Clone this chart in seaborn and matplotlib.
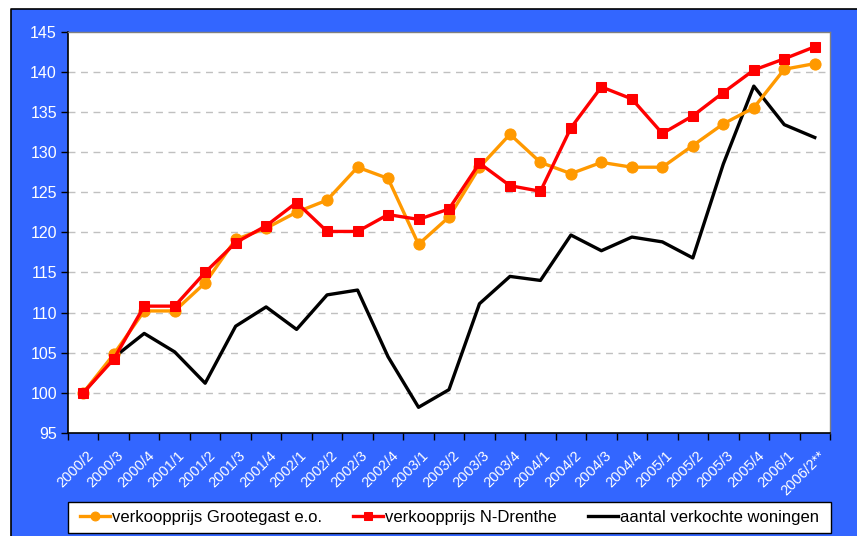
import matplotlib
matplotlib.use("Agg")
import matplotlib.pyplot as plt
import matplotlib.patches as mpatches
import matplotlib.lines as mlines
import matplotlib.transforms as mtransforms
import seaborn as sns
import pandas as pd
import numpy as np

categories = ["2000/2", "2000/3", "2000/4", "2001/1", "2001/2", "2001/3", "2001/4",
              "2002/1", "2002/2", "2002/3", "2002/4", "2003/1", "2003/2", "2003/3",
              "2003/4", "2004/1", "2004/2", "2004/3", "2004/4", "2005/1", "2005/2",
              "2005/3", "2005/4", "2006/1", "2006/2**"]
grootegast = [100, 104.8, 110.2, 110.2, 113.7, 119.1, 120.5, 122.5, 124.0, 128.1, 126.7,
              118.5, 121.9, 128.1, 132.2, 128.7, 127.3, 128.7, 128.1, 128.1, 130.8,
              133.5, 135.5, 140.3, 141.0]
drenthe = [100, 104.2, 110.8, 110.8, 115.0, 118.7, 120.8, 123.7, 120.1, 120.1, 122.2,
           121.6, 122.9, 128.6, 125.8, 125.1, 133.0, 138.1, 136.6, 132.3, 134.5,
           137.4, 140.2, 141.6, 143.1]
verkocht = [100, 104.4, 107.4, 105.1, 101.2, 108.3, 110.7, 107.9, 112.2, 112.8, 104.5,
            98.2, 100.4, 111.1, 114.5, 114.0, 119.65, 117.7, 119.4, 118.8, 116.8,
            128.5, 138.2, 133.4, 131.8]
series_names = ["verkoopprijs Grootegast e.o.", "verkoopprijs N-Drenthe",
                "aantal verkochte woningen"]
y_ticks = [95, 100, 105, 110, 115, 120, 125, 130, 135, 140, 145]

BLUE = "#3366FF"
plt.rcParams['font.family'] = ['Liberation Sans', 'DejaVu Sans']

fig = plt.figure(figsize=(8.57, 5.36), dpi=100)
fig.patch.set_facecolor("white")
W, H = 857, 536
bg = mpatches.Rectangle((11 / W, 0), 1 - 11 / W, 1 - 9 / H, transform=fig.transFigure,
                        facecolor=BLUE, edgecolor="none", zorder=-10)
fig.patches.append(bg)
fig.lines.append(mlines.Line2D([11 / W, 11 / W, 1], [0, 1 - 9 / H, 1 - 9 / H],
                               transform=fig.transFigure, color="black",
                               linewidth=1.2, zorder=-9))
# legend box
fig.patches.append(mpatches.Rectangle((68 / W, 1 - 533 / H), 763 / W, 31 / H,
                                      transform=fig.transFigure, facecolor="white",
                                      edgecolor="black", linewidth=1, zorder=-8))

ax = fig.add_axes([68 / W, 1 - 433 / H, 762 / W, (433 - 31.5) / H])
ax.set_zorder(1)
ax.set_facecolor("white")

x = np.arange(len(categories))
df = pd.DataFrame({"x": x, "g": grootegast, "d": drenthe, "v": verkocht})

sns.lineplot(data=df, x="x", y="v", ax=ax, color="black", linewidth=2.4,
             label=series_names[2], zorder=3)
sns.lineplot(data=df, x="x", y="g", ax=ax, color="#FF9900", linewidth=2.4,
             marker="o", markersize=8, markeredgecolor="#FF9900",
             label=series_names[0], zorder=4)
sns.lineplot(data=df, x="x", y="d", ax=ax, color="#FF0000", linewidth=2.4,
             marker="s", markersize=7, markeredgecolor="#FF0000",
             label=series_names[1], zorder=5)

ax.set_xlim(-0.5, len(categories) - 0.5)
ax.set_ylim(95, 145)
ax.set_yticks(y_ticks)
ax.set_yticklabels([str(v) for v in y_ticks], color="white", fontsize=11.5)
ax.tick_params(axis="y", direction="out", length=5, width=1, color="black", pad=3)

for v in y_ticks[1:-1]:
    ax.axhline(v, color="#C0C0C0", linestyle=(0, (5, 4)), linewidth=1, zorder=1)

ax.set_xticks(np.arange(-0.5, len(categories), 1.0))
ax.set_xticklabels([])
ax.tick_params(axis="x", which="major", direction="out", length=5, width=1, color="black")
ax.set_xticks(x, minor=True)
ax.set_xticklabels(categories, minor=True, rotation=45, ha="right",
                   rotation_mode="anchor", color="white", fontsize=10.5)
ax.tick_params(axis="x", which="minor", length=0, pad=11)
offset = mtransforms.ScaledTranslation(3 / 100, 0, fig.dpi_scale_trans)
for lab in ax.get_xticklabels(minor=True):
    lab.set_transform(lab.get_transform() + offset)

ax.set_xlabel("")
ax.set_ylabel("")
for s in ["left", "bottom"]:
    ax.spines[s].set_color("black")
    ax.spines[s].set_linewidth(1.2)
for s in ["top", "right"]:
    ax.spines[s].set_color("#808080")
    ax.spines[s].set_linewidth(1)

handles, labels = ax.get_legend_handles_labels()
order = [labels.index(n) for n in series_names]
ax.get_legend().remove()
leg = fig.legend([handles[i] for i in order], [labels[i] for i in order],
                 loc="center", ncol=3,
                 bbox_to_anchor=((68 + 763 / 2) / W, 1 - 517.5 / H),
                 frameon=False, fontsize=12, handlelength=1.8,
                 handletextpad=0.15, columnspacing=1.85, borderaxespad=0,
                 markerscale=0.8)

fig.savefig("out.png", dpi=100)
